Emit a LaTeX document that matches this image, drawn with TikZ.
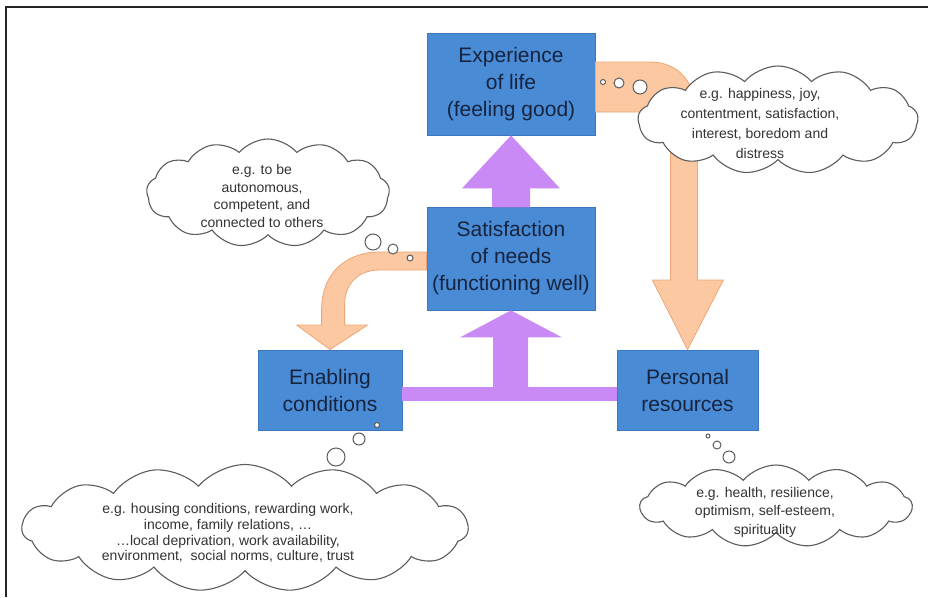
\documentclass[tikz,border=0pt]{standalone}
\usepackage{fontspec}
\setmainfont{Liberation Sans}
\usetikzlibrary{shapes.symbols,calc}
\definecolor{boxblue}{HTML}{4A8BD6}
\definecolor{boxedge}{HTML}{3B78BF}
\definecolor{boxtext}{HTML}{16243F}
\definecolor{lilac}{HTML}{C98AF6}
\definecolor{peach}{HTML}{FBC8A1}
\definecolor{peachedge}{HTML}{EFA676}
\definecolor{cloudedge}{HTML}{5C5C5C}
\definecolor{cloudtext}{HTML}{333333}
\begin{document}
\begin{tikzpicture}[x=1pt,y=-1pt,
  stage/.style={draw=boxedge, line width=0.8pt, fill=boxblue, text=boxtext,
    align=center, inner sep=0pt, font=\fontsize{21}{27}\selectfont},
  thought/.style={cloud, cloud puffs=13, cloud puff arc=100, cloud ignores aspect,
    draw=cloudedge, fill=white, line width=1.1pt, inner sep=0pt},
  thoughttext/.style={align=center, text=cloudtext, inner sep=0pt},
  bubble/.style={circle, draw=cloudedge, fill=white, line width=1pt, inner sep=0pt},
  flowup/.style={fill=lilac},
  flowturn/.style={fill=peach, draw=peachedge, line width=0.8pt, line join=round}
]
\useasboundingbox (0,0) rectangle (928,597);
\fill[white] (0,0) rectangle (928,597);

% frame
\coordinate (fa) at (6,597);
\coordinate (fb) at (6,7);
\coordinate (fc) at (928,7);
\draw[line width=2pt, black!85] (fa) -- (fb) -- (fc);

% stages
\node[stage, minimum width=168pt, minimum height=102pt] (exp) at (511,84)
  {Experience\\of life\\(feeling good)};
\node[stage, minimum width=168pt, minimum height=103pt] (sat) at (511,258.5)
  {Satisfaction\\of needs\\(functioning well)};
\node[stage, minimum width=144pt, minimum height=80pt] (ena) at (330,390)
  {Enabling\\conditions};
\node[stage, minimum width=141pt, minimum height=80pt] (per) at (687.5,390)
  {Personal\\resources};

% upward flows
\fill[flowup] (exp.south) -- ++(49,53) -- ++(-30,0) -- ++(0,19) -- ++(-38,0)
  -- ++(0,-19) -- ++(-30,0) -- cycle;
\fill[flowup] (sat.south) -- ++(51,27) -- ++(-34,0) -- ++(0,51) -- ++(-35,0)
  -- ++(0,-51) -- ++(-33,0) -- cycle;
\fill[flowup] ($(ena.east)+(0,-3)$) rectangle ($(per.west)+(0,11)$);

% bent flows
\begin{scope}[shift={(exp.east)}]
\draw[flowturn] (0,-22) -- (55,-22) .. controls (85,-22) and (102,1) .. (102,36)
  -- (102,196) -- (128,196) -- (per.north) -- (57,196) -- (75,196) -- (75,56)
  .. controls (75,36) and (65,28) .. (45,28) -- (0,28) -- cycle;
\end{scope}
\begin{scope}[shift={(sat.west)}]
\draw[flowturn] (0,-6.5) -- (-47,-6.5) .. controls (-82,-6.5) and (-105,16) .. (-105,51)
  -- (-105,66.5) -- (-130,66.5) -- (ena.north) -- (-59,66.5) -- (-82,66.5) -- (-82,46)
  .. controls (-82,26) and (-69,11.5) .. (-47,11.5) -- (0,11.5) -- cycle;
\end{scope}

% thought clouds
\node[thought, minimum width=280pt, minimum height=108pt] (c1) at (778,120) {};
\node[thoughttext, font=\fontsize{14}{20}\selectfont] (t1) at (760,123)
  {e.g. happiness, joy,\\contentment, satisfaction,\\interest, boredom and\\distress};
\node[bubble, minimum size=5pt] (b11) at (603,82) {};
\node[bubble, minimum size=10pt] (b12) at (619,83) {};
\node[bubble, minimum size=14pt] (b13) at (640,87) {};

\node[thought, minimum width=243pt, minimum height=108pt] (c2) at (268,193) {};
\node[thoughttext, font=\fontsize{14}{17.7}\selectfont] (t2) at (262,196)
  {e.g. to be\\autonomous,\\competent, and\\connected to others};
\node[bubble, minimum size=16pt] (b21) at (373,242) {};
\node[bubble, minimum size=10pt] (b22) at (393,249) {};
\node[bubble, minimum size=6pt] (b23) at (410,258) {};

\node[thought, cloud puffs=15, minimum width=446pt, minimum height=127pt] (c3) at (245,528) {};
\node[thoughttext, font=\fontsize{14}{15.7}\selectfont] (t3) at (228,533)
  {e.g. housing conditions, rewarding work,\\income, family relations, \dots\\\dots local deprivation, work availability,\\environment,\ \ social norms, culture, trust};
\node[bubble, minimum size=5pt] (b31) at (377,425) {};
\node[bubble, minimum size=12pt] (b32) at (359,439) {};
\node[bubble, minimum size=18pt] (b33) at (336,457) {};

\node[thought, minimum width=272pt, minimum height=82pt] (c4) at (776,506) {};
\node[thoughttext, font=\fontsize{14}{18.5}\selectfont] (t4) at (765,512)
  {e.g. health, resilience,\\optimism, self-esteem,\\spirituality};
\node[bubble, minimum size=4pt] (b41) at (708,436) {};
\node[bubble, minimum size=8pt] (b42) at (717,445) {};
\node[bubble, minimum size=12pt] (b43) at (729,457) {};
\end{tikzpicture}
\end{document}
